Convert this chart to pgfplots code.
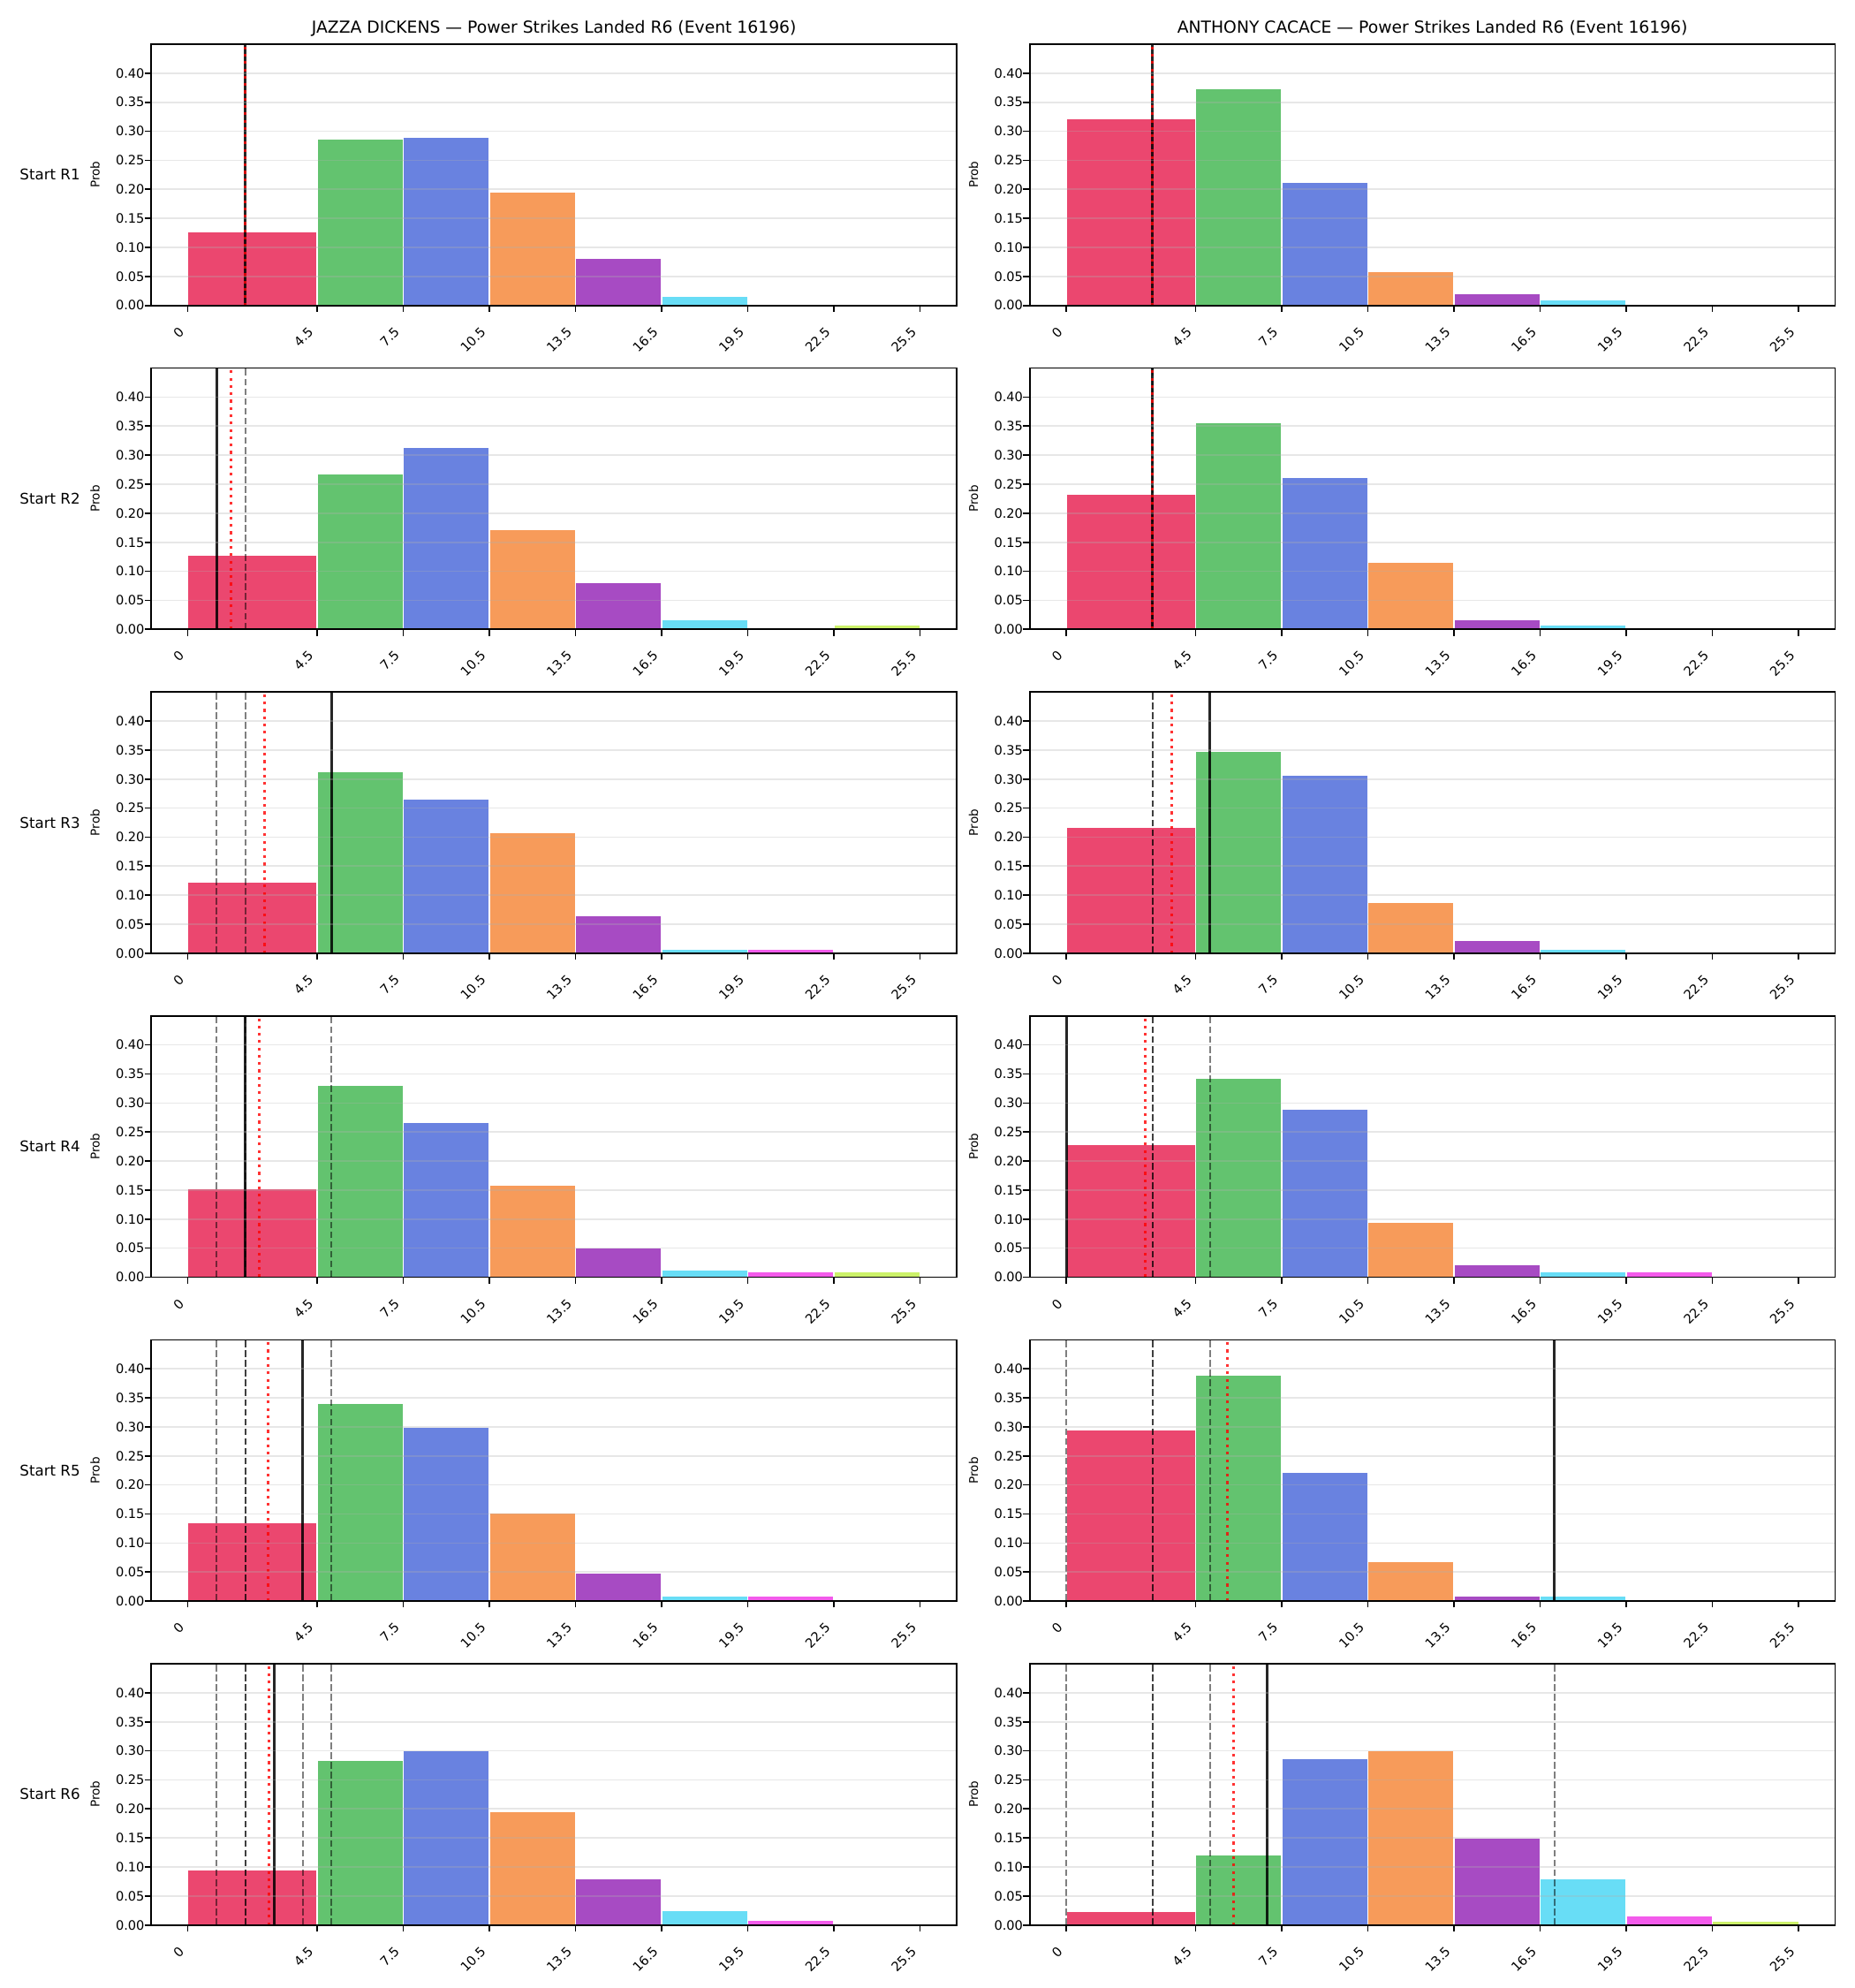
\documentclass[border=0pt]{standalone}
\usepackage{fontspec}
\setmainfont{DejaVu Sans}
\usepackage{pgfplots}
\pgfplotsset{compat=1.18}

% bin colours (drawn at 80% strength over white)
\definecolor{b1}{HTML}{E6194B}
\definecolor{b2}{HTML}{3CB44B}
\definecolor{b3}{HTML}{4363D8}
\definecolor{b4}{HTML}{F58231}
\definecolor{b5}{HTML}{911EB4}
\definecolor{b6}{HTML}{42D4F4}
\definecolor{b7}{HTML}{F032E6}
\definecolor{b8}{HTML}{BFEF45}
\colorlet{c1}{b1!80!white}
\colorlet{c2}{b2!80!white}
\colorlet{c3}{b3!80!white}
\colorlet{c4}{b4!80!white}
\colorlet{c5}{b5!80!white}
\colorlet{c6}{b6!80!white}
\colorlet{c7}{b7!80!white}
\colorlet{c8}{b8!80!white}
\definecolor{gridgray}{HTML}{B0B0B0}

\newcommand{\tickfont}{\fontsize{7bp}{8bp}\selectfont}
\newcommand{\rowfont}{\fontsize{8bp}{9.6bp}\selectfont}

\pgfplotsset{
  panel/.style={
    scale only axis, width=437.7bp, height=141.94bp,
    anchor=south west,
    xmin=-1.275, xmax=26.775, ymin=0, ymax=0.45,
    axis on top,
    axis line style={line width=0.8bp, black},
    tick align=outside, xtick pos=bottom, ytick pos=left,
    major tick length=3.5bp,
    tick style={line width=0.8bp, black},
    xtick={0,4.5,7.5,10.5,13.5,16.5,19.5,22.5,25.5},
    xticklabels={0,4.5,7.5,10.5,13.5,16.5,19.5,22.5,25.5},
    ytick={0,0.05,0.10,0.15,0.20,0.25,0.30,0.35,0.40},
    /pgf/number format/assume math mode=true,
    yticklabel style={/pgf/number format/fixed,
      /pgf/number format/fixed zerofill,
      /pgf/number format/precision=2,
      font=\tickfont, anchor=east, inner sep=0pt},
    xticklabel style={font=\tickfont, xshift=-5.3bp, yshift=-7.5bp,
      rotate=45, anchor=north east, inner sep=0pt},
    ymajorgrids,
    grid style={line width=0.8bp, color=gridgray, opacity=0.3},
    ylabel={Prob},
    ylabel style={font=\fontsize{6.5bp}{7.5bp}\selectfont,
      at={(axis description cs:0,0.5)}, anchor=center, yshift=30.6bp},
    title style={font=\fontsize{9bp}{10.8bp}\selectfont,
      at={(axis description cs:0.5,1)}, anchor=base, inner sep=0pt},
  },
  prevline/.style={black, opacity=0.5, line width=1bp,
    dash pattern=on 3.7bp off 1.6bp},
  nowline/.style={black, opacity=0.85, line width=1.5bp},
  avgline/.style={red, opacity=0.8, line width=1.5bp,
    dash pattern=on 1.5bp off 2.475bp},
}

% one histogram bar: colour, left edge, right edge, probability
\newcommand{\bin}[4]{%
  \addplot[fill=#1, draw=white, line width=0.6bp]
    coordinates {(#2,0) (#2,#4) (#3,#4) (#3,0) (#2,0)};}
% the eight bins of one panel
\newcommand{\bars}[8]{%
  \bin{c1}{0}{4.5}{#1}\bin{c2}{4.5}{7.5}{#2}\bin{c3}{7.5}{10.5}{#3}%
  \bin{c4}{10.5}{13.5}{#4}\bin{c5}{13.5}{16.5}{#5}\bin{c6}{16.5}{19.5}{#6}%
  \bin{c7}{19.5}{22.5}{#7}\bin{c8}{22.5}{25.5}{#8}}
% earlier rounds, this round, running mean
\newcommand{\prev}[1]{\addplot[prevline] coordinates {(#1,0) (#1,0.45)};}
\newcommand{\now}[1]{\addplot[nowline] coordinates {(#1,0) (#1,0.45)};}
\newcommand{\avg}[1]{\addplot[avgline] coordinates {(#1,0) (#1,0.45)};}

\newcommand{\rowlabel}[2]{%
  \node[anchor=east, inner sep=0pt, font=\rowfont] at (43.7bp,#1) {#2};}

\begin{document}
\begin{tikzpicture}
\useasboundingbox (0,0) rectangle (1008bp,1080bp);

% ---------------- Start R1 ----------------
\begin{axis}[panel, at={(82.18bp,914.06bp)},
  title={JAZZA DICKENS — Power Strikes Landed R6 (Event 16196)}]
\bars{0.127}{0.286}{0.289}{0.196}{0.081}{0.015}{0}{0}
\now{2}
\avg{2}
\end{axis}
\begin{axis}[panel, at={(559.54bp,914.06bp)},
  title={ANTHONY CACACE — Power Strikes Landed R6 (Event 16196)}]
\bars{0.321}{0.373}{0.212}{0.058}{0.021}{0.009}{0}{0}
\now{3}
\avg{3}
\end{axis}
\rowlabel{985.03bp}{Start R1}

% ---------------- Start R2 ----------------
\begin{axis}[panel, at={(82.18bp,738.1bp)}]
\bars{0.127}{0.268}{0.314}{0.172}{0.081}{0.017}{0}{0.008}
\prev{2}
\now{1}
\avg{1.5}
\end{axis}
\begin{axis}[panel, at={(559.54bp,738.1bp)}]
\bars{0.232}{0.356}{0.261}{0.116}{0.017}{0.008}{0}{0}
\prev{3}
\now{3}
\avg{3}
\end{axis}
\rowlabel{809.07bp}{Start R2}

% ---------------- Start R3 ----------------
\begin{axis}[panel, at={(82.18bp,562.13bp)}]
\bars{0.123}{0.312}{0.266}{0.207}{0.064}{0.007}{0.007}{0}
\prev{2}\prev{1}
\now{5}
\avg{2.667}
\end{axis}
\begin{axis}[panel, at={(559.54bp,562.13bp)}]
\bars{0.217}{0.348}{0.306}{0.088}{0.022}{0.007}{0}{0}
\prev{3}\prev{3}
\now{5}
\avg{3.667}
\end{axis}
\rowlabel{633.1bp}{Start R3}

% ---------------- Start R4 ----------------
\begin{axis}[panel, at={(82.18bp,386.16bp)}]
\bars{0.153}{0.330}{0.266}{0.159}{0.051}{0.013}{0.009}{0.009}
\prev{2}\prev{1}\prev{5}
\now{2}
\avg{2.5}
\end{axis}
\begin{axis}[panel, at={(559.54bp,386.16bp)}]
\bars{0.228}{0.342}{0.289}{0.094}{0.021}{0.009}{0.009}{0}
\prev{3}\prev{3}\prev{5}
\now{0}
\avg{2.75}
\end{axis}
\rowlabel{457.13bp}{Start R4}

% ---------------- Start R5 ----------------
\begin{axis}[panel, at={(82.18bp,210.2bp)}]
\bars{0.135}{0.340}{0.300}{0.151}{0.048}{0.009}{0.009}{0}
\prev{2}\prev{1}\prev{5}\prev{2}
\now{4}
\avg{2.8}
\end{axis}
\begin{axis}[panel, at={(559.54bp,210.2bp)}]
\bars{0.295}{0.389}{0.221}{0.068}{0.009}{0.009}{0}{0}
\prev{3}\prev{3}\prev{5}\prev{0}
\now{17}
\avg{5.6}
\end{axis}
\rowlabel{281.17bp}{Start R5}

% ---------------- Start R6 ----------------
\begin{axis}[panel, at={(82.18bp,34.22bp)}]
\bars{0.095}{0.283}{0.300}{0.196}{0.079}{0.025}{0.008}{0}
\prev{2}\prev{1}\prev{5}\prev{2}\prev{4}
\now{3}
\avg{2.833}
\end{axis}
\begin{axis}[panel, at={(559.54bp,34.22bp)}]
\bars{0.024}{0.120}{0.286}{0.301}{0.150}{0.080}{0.016}{0.007}
\prev{3}\prev{3}\prev{5}\prev{0}\prev{17}
\now{7}
\avg{5.833}
\end{axis}
\rowlabel{105.19bp}{Start R6}

\end{tikzpicture}
\end{document}
